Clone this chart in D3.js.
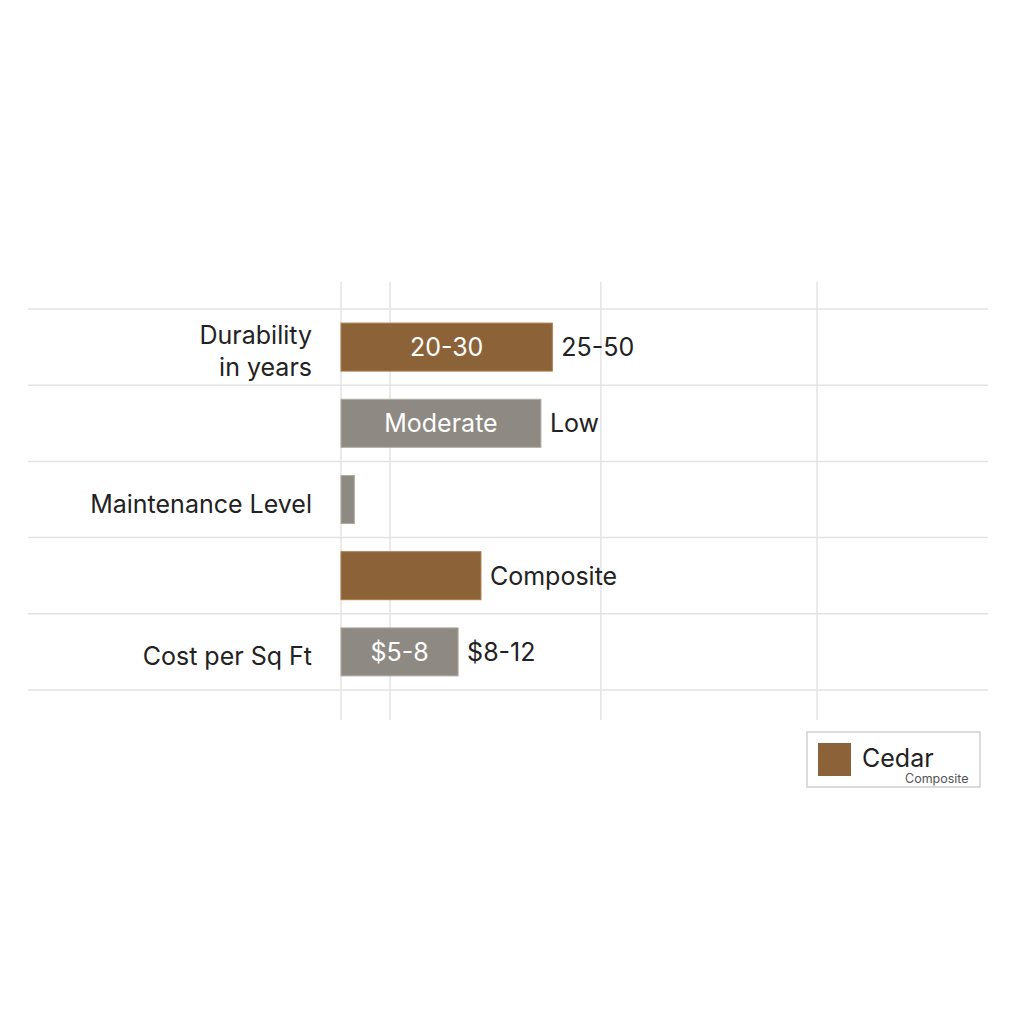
<!DOCTYPE html>
<html><head><meta charset="utf-8">
<script src="https://cdn.jsdelivr.net/npm/d3@7"></script>
<style>body{margin:0;background:#fff}svg{display:block}</style>
</head><body>
<script>
const rows = ["r1","r2","r3","r4","r5"];
const values = [22.2, 21.0, 1.4, 14.7, 12.3];
const series = ["Cedar","Gray","Gray","Cedar","Gray"];
const insideLabels = ["20-30","Moderate","","","$5-8"];
const outsideLabels = ["25-50","Low","","Composite","$8-12"];
const categoryLabels = [["Durability","in years"],[],["Maintenance Level"],[],["Cost per Sq Ft"]];
const gridValues = [0, 5.15, 27.3, 50];
const legendItems = ["Cedar"];
const legendSub = "Composite";

const colors = {Cedar:"#8C6339", Gray:"#8E8A83"};
const W=1024,H=1024;
const svg=d3.select("body").append("svg").attr("width",W).attr("height",H);
const font="Inter, 'Noto Sans', sans-serif";

const x=d3.scaleLinear().domain([0,50]).range([341,817]);
const y=d3.scaleBand().domain(rows).range([309,690]).paddingInner(0);
const barH=48;

// vertical grid
svg.append("g").selectAll("line").data(gridValues).join("line")
  .attr("x1",d=>x(d)).attr("x2",d=>x(d)).attr("y1",282).attr("y2",720)
  .attr("stroke","#e3e3e3").attr("stroke-width",1.5);
// horizontal grid at band boundaries
const bounds = rows.map(r=>y(r)).concat([y(rows[rows.length-1])+y.bandwidth()]);
svg.append("g").selectAll("line").data(bounds).join("line")
  .attr("x1",28).attr("x2",988).attr("y1",d=>d).attr("y2",d=>d)
  .attr("stroke","#e3e3e3").attr("stroke-width",1.5);

const data=rows.map((r,i)=>({r,v:values[i],s:series[i],inL:insideLabels[i],outL:outsideLabels[i],cat:categoryLabels[i]}));
const cy=d=>y(d.r)+y.bandwidth()/2;

svg.append("g").selectAll("rect").data(data).join("rect")
  .attr("x",x(0)).attr("y",d=>cy(d)-barH/2).attr("width",d=>x(d.v)-x(0)).attr("height",barH)
  .attr("fill",d=>colors[d.s]).attr("stroke",d=>d3.color(colors[d.s]).brighter(0.6)).attr("stroke-width",1);

svg.append("g").selectAll("text").data(data.filter(d=>d.inL)).join("text")
  .attr("x",d=>(x(0)+x(d.v))/2).attr("y",d=>cy(d)).attr("dy","0.36em")
  .attr("text-anchor","middle").attr("fill","#fff").attr("font-family",font).attr("font-size",25)
  .text(d=>d.inL);

svg.append("g").selectAll("text").data(data.filter(d=>d.outL)).join("text")
  .attr("x",d=>x(d.v)+9).attr("y",d=>cy(d)).attr("dy","0.36em")
  .attr("fill","#222").attr("font-family",font).attr("font-size",25)
  .text(d=>d.outL);

const cat=svg.append("g").selectAll("text").data(data.filter(d=>d.cat.length)).join("text")
  .attr("x",312).attr("text-anchor","end").attr("fill","#222").attr("font-family",font).attr("font-size",25)
  .attr("y",d=>cy(d)+4-(d.cat.length-1)*16);
cat.selectAll("tspan").data(d=>d.cat).join("tspan")
  .attr("x",312).attr("dy",(t,i)=>i===0?"0.36em":"32").text(t=>t);

// legend
const lg=svg.append("g");
lg.append("rect").attr("x",807).attr("y",732).attr("width",173).attr("height",55)
  .attr("fill","#fff").attr("stroke","#cfcfcf").attr("stroke-width",1.5);
lg.selectAll("rect.sw").data(legendItems).join("rect").attr("class","sw")
  .attr("x",818).attr("y",743).attr("width",33).attr("height",33).attr("fill",d=>colors[d]);
lg.selectAll("text.lt").data(legendItems).join("text").attr("class","lt")
  .attr("x",862).attr("y",767).attr("font-family",font).attr("font-size",25).attr("fill","#222").text(d=>d);
lg.append("text").attr("x",905).attr("y",783).attr("font-family",font).attr("font-size",12.5)
  .attr("fill","#555").text(legendSub);
</script>
</body></html>
